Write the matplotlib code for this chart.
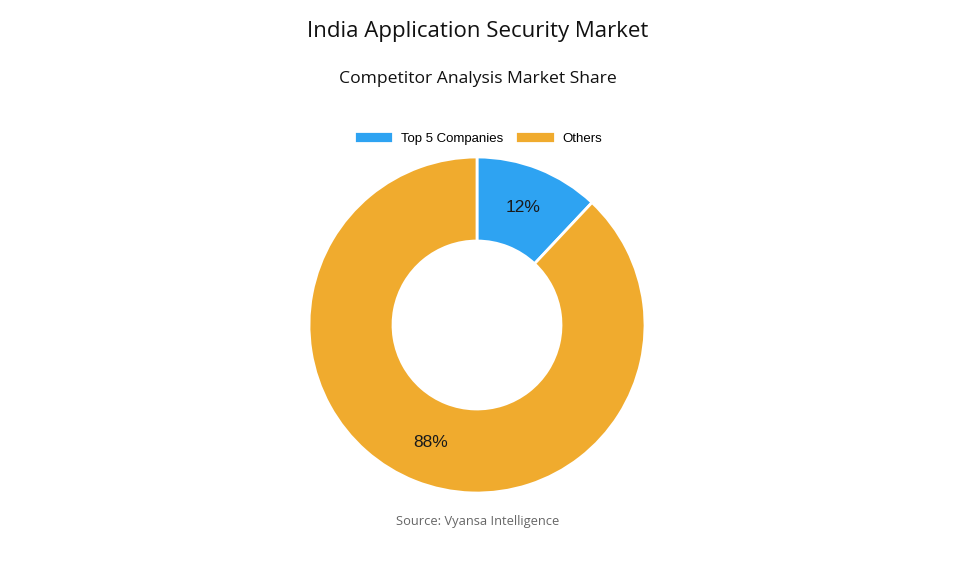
import numpy as np
import matplotlib.pyplot as plt

# Data
labels = ['Top 5 Companies', 'Others']
shares = [12, 88]
colors = ['#2ea3f2', '#f0ab2e']

fig = plt.figure(figsize=(9.55, 5.73), dpi=100)
fig.patch.set_facecolor('white')

# Donut axes placed in pixel terms (center ~477,325, radius ~168)
ax = fig.add_axes([309 / 955, 80 / 573, 336 / 955, 336 / 573])
wedges, texts = ax.pie(
    shares, colors=colors, startangle=90, counterclock=False, radius=1,
    wedgeprops=dict(width=0.5, edgecolor='white', linewidth=2),
)
ax.set_xlim(-1, 1)
ax.set_ylim(-1, 1)
ax.set_aspect('equal')
ax.axis('off')

# Percentage labels
for w, s in zip(wedges, shares):
    mid = np.deg2rad((w.theta1 + w.theta2) / 2)
    ax.text(0.75 * np.cos(mid), 0.75 * np.sin(mid), f'{s}%',
            ha='center', va='center', fontsize=12.5, color='#1a1a1a',
            family='Liberation Sans')

# Titles
fig.text(0.5, 1 - 31 / 573, 'India Application Security Market', ha='center', va='center',
         fontsize=16, family='Open Sans', color='#111111')
fig.text(0.5, 1 - 79 / 573, 'Competitor Analysis Market Share', ha='center', va='center',
         fontsize=12.6, family='Open Sans', color='#111111')

# Legend
fig.legend(wedges, labels, loc='center', bbox_to_anchor=(478 / 955, 1 - 138 / 573), ncol=2,
           frameon=False, prop={'family': 'Liberation Sans', 'size': 9.5},
           handlelength=3.0, handleheight=1.0, columnspacing=0.9, handletextpad=0.6)

# Source
fig.text(0.5, 1 - 522 / 573, 'Source: Vyansa Intelligence', ha='center', va='center',
         fontsize=9.3, family='Open Sans', color='#666666')

fig.savefig('out.png', dpi=100)
